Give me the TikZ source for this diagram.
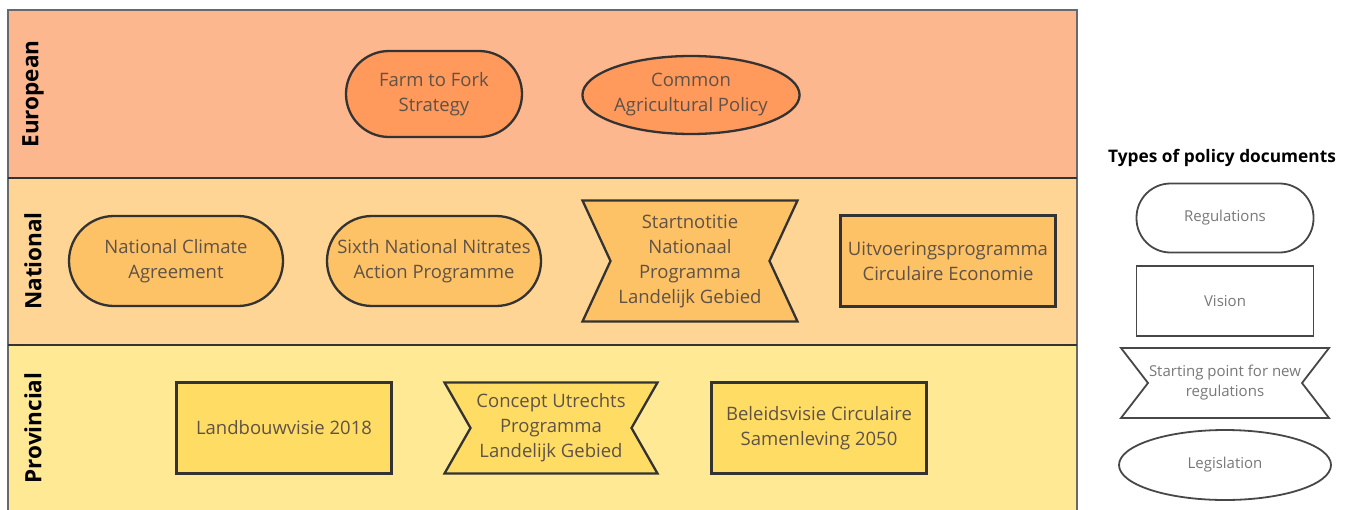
\documentclass[tikz,border=0pt]{standalone}
\usepackage{fontspec}
\setmainfont{Open Sans}
\usetikzlibrary{shapes.geometric}
\pgfdeclarelayer{lanes}
\pgfdeclarelayer{shapes}
\pgfsetlayers{lanes,shapes,main}
\definecolor{euLane}{RGB}{253,183,143}
\definecolor{euNode}{RGB}{255,153,92}
\definecolor{naLane}{RGB}{254,213,148}
\definecolor{naNode}{RGB}{254,194,102}
\definecolor{prLane}{RGB}{255,233,148}
\definecolor{prNode}{RGB}{255,221,100}
\definecolor{edge}{RGB}{51,51,51}
\definecolor{frame}{RGB}{105,105,105}
\definecolor{nodeText}{RGB}{95,82,70}
\definecolor{legText}{RGB}{120,120,120}
\tikzset{
  x=1pt, y=-1pt,
  every node/.style={inner sep=0pt, outer sep=0pt},
  doc/.style={font=\fontsize{18.5}{25}\selectfont, text=nodeText, align=center, draw=edge, line width=2.3pt},
  regbox/.style={doc, rectangle, rounded corners=#1},
  visbox/.style={doc, rectangle},
  legbox/.style={doc, ellipse},
  bowbox/.style={font=\fontsize{18.5}{25}\selectfont, text=nodeText, align=center, rectangle},
  legdoc/.style={font=\fontsize{15}{20}\selectfont, text=legText, align=center, draw=edge!90, line width=1.8pt, fill=white},
  legbow/.style={font=\fontsize{15}{20}\selectfont, text=legText, align=center, rectangle},
  lanelabel/.style={font=\fontsize{22.5}{24}\selectfont\bfseries, text=black, rotate=90},
}
\newcommand{\bowshape}[3]{% node, depth, style
  \draw[#3] (#1.north west) -- (#1.north east) -- ([xshift=-#2pt]#1.east) -- (#1.south east) -- (#1.south west) -- ([xshift=#2pt]#1.west) -- cycle;}
\begin{document}
\begin{tikzpicture}
\useasboundingbox (0,0) rectangle (1352,509);
\clip (0,0) rectangle (1352,509);
\begin{pgfonlayer}{lanes}
  \fill[euLane] (8,10) rectangle (1077,178);
  \fill[naLane] (8,178) rectangle (1077,345);
  \fill[prLane] (8,345) rectangle (1077,520);
  \draw[frame, line width=2.5pt] (8,520) -- (8,10) -- (1077,10) -- (1077,520);
  \draw[edge, line width=2.8pt] (8,178) -- (1077,178);
  \draw[edge, line width=2.8pt] (8,345) -- (1077,345);
\end{pgfonlayer}

\node[lanelabel] (lEU) at (33,94) {European};
\node[lanelabel] (lNA) at (33,261) {National};
\node[lanelabel] (lPR) at (33,428) {Provincial};

% European
\node[regbox=43pt, fill=euNode, minimum width=176pt, minimum height=86pt] (f2f) at (434,94) {Farm to Fork\\Strategy};
\node[legbox, fill=euNode, minimum width=216pt, minimum height=78pt] (cap) at (691,95) {Common\\Agricultural Policy};

% National
\node[regbox=45pt, fill=naNode, minimum width=214pt, minimum height=90pt] (nca) at (176,261) {National Climate\\Agreement};
\node[regbox=45pt, fill=naNode, minimum width=214pt, minimum height=90pt] (snn) at (434,261) {Sixth National Nitrates\\Action Programme};
\node[bowbox, minimum width=215pt, minimum height=121pt] (snp) at (690,261) {Startnotitie\\Nationaal\\Programma\\Landelijk Gebied};
\node[visbox, fill=naNode, minimum width=215pt, minimum height=91pt] (uce) at (948,261) {Uitvoeringsprogramma\\Circulaire Economie};

% Provincial
\node[visbox, fill=prNode, minimum width=215pt, minimum height=91pt] (lbv) at (284,428) {Landbouwvisie 2018};
\node[bowbox, minimum width=213pt, minimum height=91pt] (cup) at (551,428) {Concept Utrechts\\Programma\\Landelijk Gebied};
\node[visbox, fill=prNode, minimum width=215pt, minimum height=91pt] (bcs) at (819,428) {Beleidsvisie Circulaire\\Samenleving 2050};

% Legend
\node[font=\fontsize{17.3}{20}\selectfont\bfseries, text=black] (legT) at (1222,158) {Types of policy documents};
\node[legdoc, rectangle, rounded corners=34pt, minimum width=177pt, minimum height=69pt] (lreg) at (1225,218) {Regulations};
\node[legdoc, rectangle, minimum width=177pt, minimum height=70pt] (lvis) at (1225,301) {Vision};
\node[legbow, minimum width=208pt, minimum height=70pt] (lstart) at (1225,383) {Starting point for new\\regulations};
\node[legdoc, ellipse, minimum width=212pt, minimum height=70pt] (lleg) at (1225,465) {Legislation};

\begin{pgfonlayer}{shapes}
  \bowshape{snp}{28}{draw=edge, line width=2.3pt, fill=naNode, line join=miter}
  \bowshape{cup}{26}{draw=edge, line width=2.3pt, fill=prNode, line join=miter}
  \bowshape{lstart}{27}{draw=edge!90, line width=1.8pt, fill=white, line join=miter}
\end{pgfonlayer}
\end{tikzpicture}
\end{document}
